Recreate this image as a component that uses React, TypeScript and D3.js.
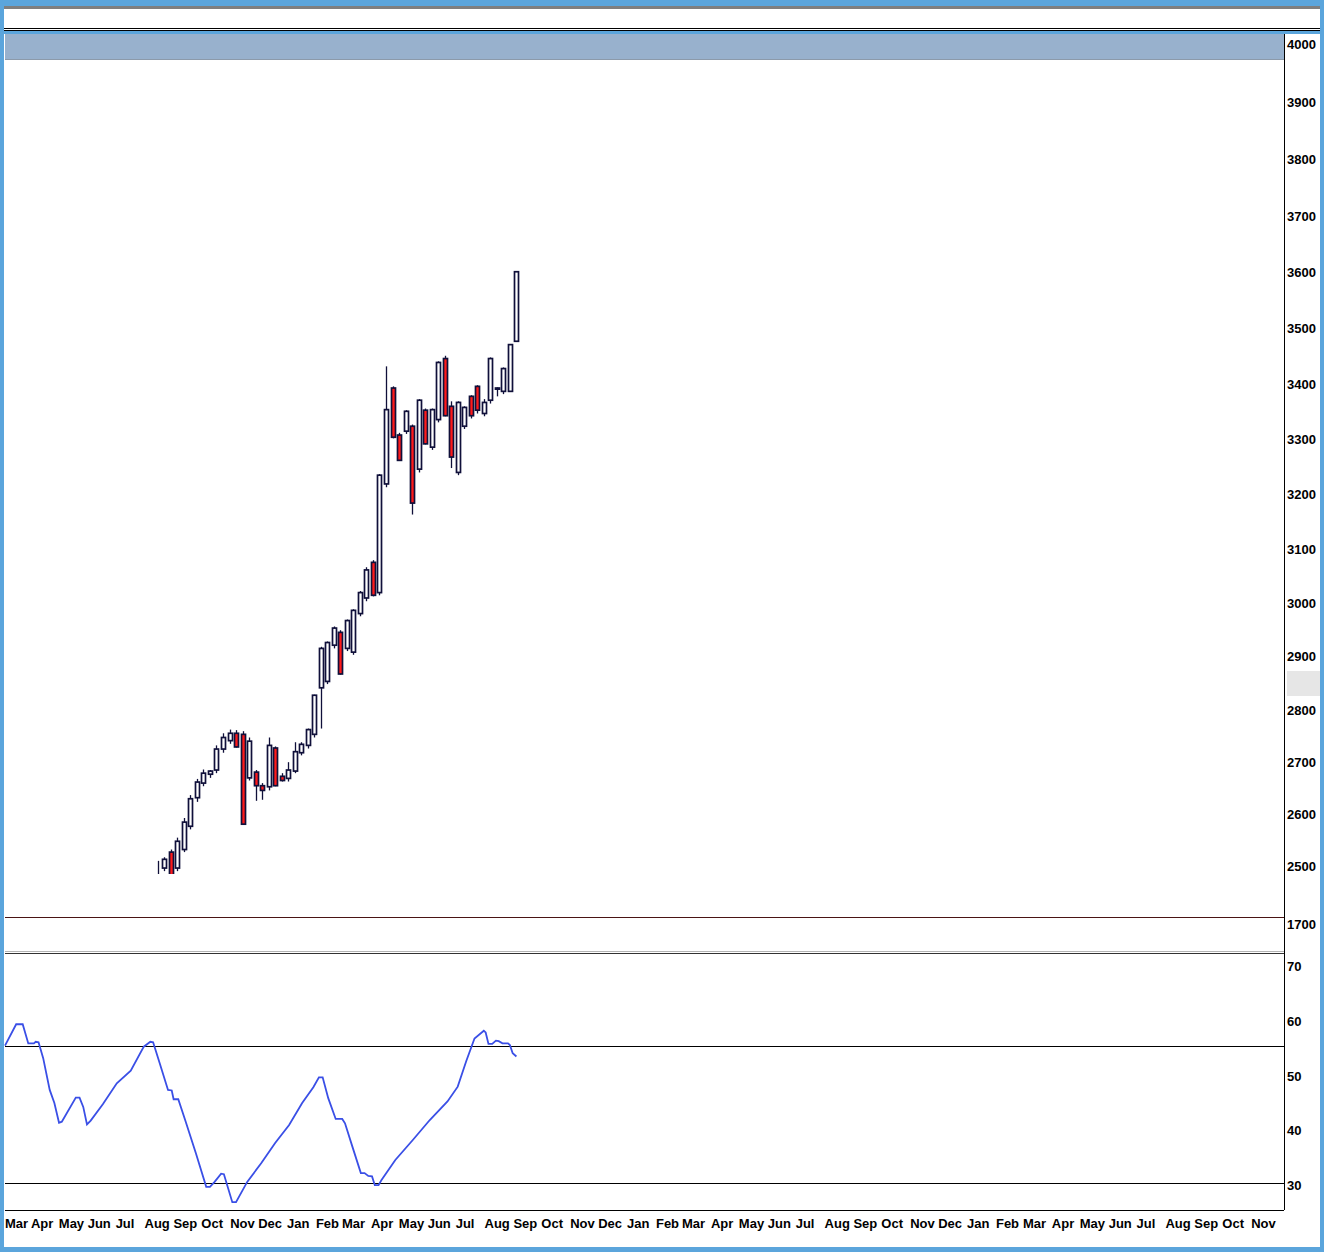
import React from 'react';
import * as d3 from 'd3';

const W = 1324;
const H = 1252;

// Weekly candles (first week and values)
const firstWeek = '2021-08-12';
const opens = [2440,2496,2527,2496,2532,2577,2632,2660,2677,2685,2725,2741,2755,2753,2670,2681,2655,2653,2727,2673,2669,2683,2718,2732,2753,2841,2853,2921,2945,2915,2908,2980,3009,3075,3019,3219,3393,3308,3315,3324,3246,3353,3286,3336,3446,3360,3240,3324,3378,3396,3347,3371,3391,3387,3387,3477];
const highs = [2510,2517,2532,2555,2593,2637,2668,2686,2685,2732,2755,2762,2761,2759,2747,2685,2660,2747,2730,2679,2700,2738,2738,2764,2828,2918,2928,2956,2949,2969,2988,3022,3066,3079,3237,3432,3396,3312,3353,3327,3373,3356,3356,3441,3451,3369,3369,3360,3380,3398,3373,3448,3394,3430,3472,3602];
const lows = [2430,2490,2470,2490,2527,2571,2624,2654,2670,2679,2718,2735,2728,2580,2665,2626,2628,2646,2654,2663,2663,2679,2713,2726,2747,2764,2848,2915,2866,2910,2903,2975,3003,3012,3014,3213,3302,3261,3310,3163,3240,3291,3281,3331,3342,3248,3235,3319,3338,3347,3342,3365,3378,3382,3386,3476];
const closes = [2470,2513,2482,2548,2585,2630,2662,2679,2683,2725,2747,2755,2729,2581,2740,2655,2646,2732,2655,2665,2685,2720,2734,2762,2827,2915,2926,2953,2867,2967,2986,3019,3061,3014,3235,3354,3304,3262,3351,3184,3371,3292,3354,3439,3343,3268,3367,3358,3343,3353,3367,3446,3393,3428,3471,3601];

const priceTicks = [4000,3900,3800,3700,3600,3500,3400,3300,3200,3100,3000,2900,2800,2700,2600,2500];
const volumeTick = '1700';

// Oscillator line
const oscDates = ['2021-03-01','2021-03-13','2021-03-20','2021-03-26','2021-04-01','2021-04-03','2021-04-06','2021-04-11','2021-04-18','2021-04-23','2021-04-28','2021-05-01','2021-05-16','2021-05-20','2021-05-24','2021-05-28','2021-06-01','2021-06-14','2021-06-29','2021-07-14','2021-07-28','2021-08-04','2021-08-07','2021-08-14','2021-08-23','2021-08-27','2021-08-29','2021-09-03','2021-09-11','2021-09-22','2021-10-03','2021-10-07','2021-10-12','2021-10-19','2021-10-22','2021-10-31','2021-11-04','2021-11-16','2021-12-01','2021-12-16','2021-12-31','2022-01-14','2022-01-26','2022-02-01','2022-02-05','2022-02-11','2022-02-19','2022-02-26','2022-03-01','2022-03-09','2022-03-18','2022-03-22','2022-03-26','2022-03-30','2022-04-02','2022-04-06','2022-04-09','2022-04-24','2022-05-13','2022-05-31','2022-06-19','2022-06-30','2022-07-09','2022-07-18','2022-07-28','2022-07-30','2022-08-02','2022-08-06','2022-08-10','2022-08-13','2022-08-17','2022-08-23','2022-08-25','2022-08-28','2022-09-01'];
const oscValues = [55.1,59.0,59.0,55.5,55.5,55.8,55.7,52.8,47.0,44.6,41.0,41.2,45.6,45.6,43.9,40.7,41.4,44.4,48.2,50.5,54.9,55.8,55.7,51.9,47.0,46.9,45.3,45.3,41.2,35.4,29.3,29.3,30.2,31.7,31.6,26.5,26.5,30.2,33.6,37.3,40.6,44.6,47.5,49.3,49.3,45.5,41.7,41.7,40.9,36.6,31.8,31.8,31.3,31.2,29.6,29.6,30.5,34.2,37.9,41.5,44.9,47.6,52.2,56.4,57.8,57.5,55.4,55.4,56.0,55.9,55.5,55.5,55.2,53.7,53.1];
const oscTicks = [70,60,50,40,30];
const oscLevels = [55,30];

const axisStart = '2021-03-01';
const axisEnd = '2024-12-03';
const labelEnd = '2024-11-02';

const parse = d3.timeParse('%Y-%m-%d');
const FONT = '"Liberation Sans", Arial, sans-serif';

export default function App() {
  const left = 5;
  const right = 1284;
  const x = d3.scaleTime().domain([parse(axisStart)!, parse(axisEnd)!]).range([left, right]);
  const yP = d3.scalePow().exponent(1.25).domain([2500, 4000]).range([866, 44]);
  const yO = d3.scaleLinear().domain([30, 70]).range([1183, 964]);

  const start = parse(firstWeek)!;
  const candles = opens.map((o, i) => ({
    date: d3.timeDay.offset(start, 7 * i),
    o, h: highs[i], l: lows[i], c: closes[i],
  }));

  const months = d3.timeMonth.range(parse(axisStart)!, parse(labelEnd)!);
  const fmt = d3.timeFormat('%b');

  const oscPts = oscDates.map((d, i) => ({ date: parse(d)!, v: oscValues[i] }));
  const line = d3.line<{ date: Date; v: number }>()
    .x(d => x(d.date))
    .y(d => yO(d.v))
    .curve(d3.curveLinear);

  return (
    <svg width={W} height={H} style={{ position: 'absolute', left: 0, top: 0, display: 'block' }}>
      <defs>
        <clipPath id="pclip">
          <rect x={left} y={60} width={right - left} height={874 - 60} />
        </clipPath>
      </defs>
      {/* outer frame */}
      <rect x={0} y={0} width={W} height={H} fill="#5ba5dc" />
      <rect x={4} y={6} width={1316} height={3} fill="#7f7f7f" />
      <rect x={4} y={9} width={1316} height={19} fill="#ffffff" />
      <line x1={4} x2={1320} y1={28.5} y2={28.5} stroke="#000" strokeWidth={1} />
      <rect x={4} y={29} width={1316} height={1} fill="#ffffff" />
      <line x1={4} x2={1320} y1={30.5} y2={30.5} stroke="#000" strokeWidth={1} />
      <rect x={4} y={34} width={1316} height={1213} fill="#ffffff" />
      <rect x={left} y={34} width={right - left} height={25.5} fill="#98b1cd" />
      <line x1={left} x2={right} y1={59.5} y2={59.5} stroke="#8c9aaa" strokeWidth={1} />
      <rect x={1287} y={671} width={33} height={25} fill="#e6e6e6" />

      {/* right axis */}
      <line x1={right + 0.5} x2={right + 0.5} y1={34} y2={1210} stroke="#000" strokeWidth={1} />
      {priceTicks.map(t => (
        <text key={t} x={1287} y={yP(t) + 5} fontFamily={FONT} fontWeight="bold" fontSize={13} fill="#000">{t}</text>
      ))}

      {/* candles */}
      <g clipPath="url(#pclip)">
        {candles.map((d, i) => {
          const cx = Math.round(x(d.date)) + 0.5;
          const up = d.c >= d.o;
          const yTop = yP(Math.max(d.o, d.c));
          const yBot = yP(Math.min(d.o, d.c));
          return (
            <g key={i}>
              <line x1={cx} x2={cx} y1={yP(d.h)} y2={yP(d.l)} stroke="#10103a" strokeWidth={1.3} />
              <rect x={cx - 2} y={yTop} width={4} height={Math.max(1, yBot - yTop)}
                fill={up ? '#ffffff' : '#ff1a1a'} stroke="#10103a" strokeWidth={1.7} />
            </g>
          );
        })}
      </g>

      {/* panel separators */}
      <line x1={left} x2={right} y1={917.5} y2={917.5} stroke="#4a1414" strokeWidth={1} />
      <text x={1287} y={929} fontFamily={FONT} fontWeight="bold" fontSize={13} fill="#000">{volumeTick}</text>
      <line x1={left} x2={right} y1={951.5} y2={951.5} stroke="#b4b4b4" strokeWidth={1} />
      <line x1={left} x2={right} y1={953.5} y2={953.5} stroke="#333" strokeWidth={1} />

      {/* oscillator */}
      {oscLevels.map(v => (
        <line key={v} x1={left} x2={right} y1={Math.round(yO(v)) + 0.5} y2={Math.round(yO(v)) + 0.5} stroke="#000" strokeWidth={1} />
      ))}
      {oscTicks.map(t => (
        <text key={t} x={1287} y={yO(t) + 7} fontFamily={FONT} fontWeight="bold" fontSize={13} fill="#000">{t}</text>
      ))}
      <path d={line(oscPts) || ''} fill="none" stroke="#3a4fe6" strokeWidth={1.8} />

      {/* time axis */}
      <line x1={left} x2={right} y1={1210.5} y2={1210.5} stroke="#000" strokeWidth={1} />
      {months.map((m, i) => (
        <text key={i} x={Math.max(5, x(m) - 3)} y={1228} fontFamily={FONT} fontWeight="bold" fontSize={13} fill="#000">{fmt(m)}</text>
      ))}
    </svg>
  );
}
